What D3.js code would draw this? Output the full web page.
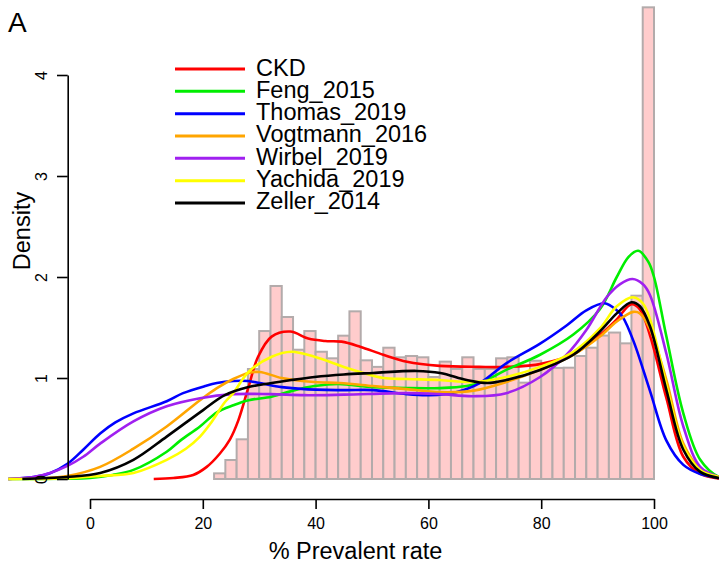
<!DOCTYPE html>
<html>
<head>
<meta charset="utf-8">
<script src="https://cdn.jsdelivr.net/npm/d3@7"></script>
<style>
  html, body { margin: 0; padding: 0; background: #fff; }
  svg { display: block; }
  text { font-family: "Liberation Sans", Arial, Helvetica, sans-serif; fill: #000; }
</style>
</head>
<body>
<svg id="chart" width="719" height="566"></svg>
<script>
// Histogram of prevalence (bins of width 2, from 22 to 100), density scale
const binStart = 22;
const binWidth = 2;
const histDensity = [0.056, 0.188, 0.393, 1.089, 1.465, 1.911, 1.604, 1.280, 1.465, 1.260,
  1.195, 1.419, 1.660, 1.175, 1.110, 1.300, 1.205, 1.218, 1.205, 1.010,
  1.162, 1.090, 1.205, 1.090, 1.090, 1.195, 1.205, 0.954, 1.171, 1.139,
  1.100, 1.102, 1.218, 1.300, 1.420, 1.450, 1.343, 1.815, 4.670];

// Series names and colours
const seriesNames = ["CKD", "Feng_2015", "Thomas_2019", "Vogtmann_2016", "Wirbel_2019", "Yachida_2019", "Zeller_2014"];
const seriesColors = ["#ff0000", "#00ee00", "#0000ff", "#ffa500", "#a020f0", "#ffff00", "#000000"];

// Kernel density curves: [prevalent rate %, density]
const ckd = [[11.3,0],[14.8,0.01],[18.3,0.04],[20.7,0.12],[23,0.25],[24.8,0.39],[26.3,0.58],[28.1,0.91],
  [29.8,1.21],[32.2,1.41],[35.5,1.46],[38.7,1.39],[41.7,1.366],[44.6,1.36],[47.9,1.31],[52,1.23],
  [56.2,1.16],[62,1.12],[69,1.11],[74,1.11],[80,1.14],[86,1.245],[90.5,1.43],[93.3,1.575],[96,1.73],
  [97.5,1.68],[99.3,1.42],[102.2,0.80],[105.2,0.22],[108.2,0.05],[111.5,0.005],[114,0]];
const feng2015 = [[-14.5,0],[-5,0.003],[0,0.01],[4,0.04],[7.7,0.09],[13.6,0.27],[16,0.38],[19.5,0.52],
  [22.5,0.66],[25.4,0.73],[28.1,0.78],[32.2,0.815],[36.3,0.88],[39.8,0.92],[44,0.94],[50.2,0.91],
  [56.1,0.90],[62.1,0.90],[66.8,0.92],[69.5,0.96],[73.8,1.08],[79.8,1.23],[85.7,1.43],[90.4,1.68],
  [93.4,2.0],[95.5,2.2],[97.2,2.26],[99,2.15],[100,2.0],[102.2,1.41],[105.2,0.65],[108.2,0.19],
  [111.5,0.02],[114,0]];
const thomas2019 = [[-14.5,0],[-10,0.02],[-7,0.06],[-4,0.15],[-1.2,0.29],[1.8,0.45],[4.5,0.56],[7.7,0.65],
  [13.6,0.77],[16.5,0.85],[20.4,0.92],[22.5,0.95],[25.4,0.97],[28,0.97],[30.1,0.95],[34,0.91],
  [38.1,0.89],[45,0.88],[50.2,0.88],[56.1,0.84],[60.2,0.83],[64.9,0.86],[69.1,0.95],[73.8,1.145],
  [79.8,1.34],[84.5,1.52],[88,1.67],[91.2,1.74],[93.4,1.67],[94.5,1.6],[96.4,1.36],[99.3,0.87],
  [102.2,0.38],[105.2,0.14],[108.2,0.05],[111.6,0.01],[114,0]];
const vogtmann2016 = [[-14.5,0],[-8,0.01],[-4,0.03],[1.8,0.12],[7.7,0.30],[13.6,0.52],[19.5,0.78],
  [22.5,0.90],[25.4,0.99],[28.1,1.05],[30.1,1.06],[34,1.0],[39.8,0.96],[44.3,0.95],[50.2,0.92],
  [56.1,0.89],[62.1,0.86],[68,0.875],[73.8,0.96],[79.8,1.08],[85.7,1.23],[90.4,1.41],[93.4,1.56],
  [96.3,1.655],[97.5,1.64],[99.3,1.48],[102.2,0.98],[105.2,0.35],[108.2,0.10],[111.5,0.02],[114,0]];
const wirbel2019 = [[-14.5,0],[-10,0.02],[-7.1,0.06],[-4,0.13],[-1.2,0.22],[1.8,0.35],[7.7,0.57],
  [13.6,0.72],[19.5,0.80],[25.4,0.84],[32,0.84],[38,0.83],[45,0.835],[56,0.85],[62,0.84],[68,0.82],
  [73.8,0.85],[79.8,1.01],[84.5,1.23],[88,1.475],[91.6,1.80],[94,1.93],[96.2,1.98],[98,1.93],
  [99.3,1.82],[102.2,1.24],[105.2,0.52],[108.2,0.12],[111.5,0.02],[114,0]];
const yachida2019 = [[-14.5,0],[-5,0.005],[1.8,0.03],[7.7,0.06],[13.6,0.19],[17,0.30],[19.5,0.42],
  [21.5,0.56],[23.9,0.76],[25.4,0.85],[28.1,1.06],[32.2,1.21],[35.7,1.26],[39.8,1.21],[45,1.11],
  [47.9,1.06],[52,1.0],[56.1,0.99],[62,0.98],[68,0.96],[73.8,1.01],[79.8,1.11],[85.7,1.26],
  [90.4,1.49],[93.4,1.71],[96.3,1.80],[98,1.74],[99.3,1.58],[102.2,0.93],[105.2,0.32],[108.2,0.09],
  [111.5,0.02],[114,0]];
const zeller2014 = [[-12,0],[-4.1,0.02],[1.8,0.06],[7.7,0.19],[13.6,0.42],[20,0.68],[23.9,0.83],
  [28.1,0.91],[32.2,0.95],[35.7,0.98],[39.8,1.01],[45,1.035],[50.2,1.05],[57.9,1.07],[62.1,1.05],
  [66.8,0.98],[70.5,0.95],[73.8,0.98],[79.8,1.08],[85.7,1.23],[90.4,1.46],[93.4,1.64],[96,1.75],
  [97.5,1.71],[99.3,1.51],[102.2,0.88],[105.2,0.29],[108.2,0.07],[111.5,0.01],[114,0]];

const seriesValues = [ckd, feng2015, thomas2019, vogtmann2016, wirbel2019, yachida2019, zeller2014];

// Axis ticks
const xTicks = [0, 20, 40, 60, 80, 100];
const yTicks = [0, 1, 2, 3, 4];

const svg = d3.select("#chart");
const W = 719, H = 566;

const x = d3.scaleLinear().domain([0, 100]).range([90, 654]);
const y = d3.scaleLinear().domain([0, 4]).range([479, 75]);

// clip for the plotting region
svg.append("defs").append("clipPath").attr("id", "plotClip")
  .append("rect").attr("x", 0).attr("y", 0).attr("width", W).attr("height", 492);

// Histogram bars
const bins = histDensity.map((d, i) => ({ x0: binStart + i * binWidth, x1: binStart + (i + 1) * binWidth, d }));
svg.append("g")
  .selectAll("rect")
  .data(bins)
  .join("rect")
  .attr("x", b => x(b.x0))
  .attr("y", b => y(b.d))
  .attr("width", b => x(b.x1) - x(b.x0))
  .attr("height", b => y(0) - y(b.d))
  .attr("fill", "#ffcccc")
  .attr("stroke", "#b3abab")
  .attr("stroke-width", 2);

// Density curves
const line = d3.line()
  .x(p => x(p[0]))
  .y(p => y(p[1]))
  .curve(d3.curveCatmullRom.alpha(0.5));

const curves = svg.append("g").attr("clip-path", "url(#plotClip)");
seriesValues.forEach((vals, i) => {
  curves.append("path")
    .attr("d", line(vals))
    .attr("fill", "none")
    .attr("stroke", seriesColors[i])
    .attr("stroke-width", 2.6)
    .attr("stroke-linejoin", "round")
    .attr("stroke-linecap", "butt");
});

// X axis
const xAxis = svg.append("g")
  .attr("transform", "translate(0,499)")
  .call(d3.axisBottom(x).tickValues(xTicks).tickFormat(d3.format("d"))
    .tickSize(10).tickSizeOuter(0).tickPadding(8));
xAxis.select(".domain").attr("stroke", "#000").attr("stroke-width", 1.6);
xAxis.selectAll(".tick line").attr("stroke", "#000").attr("stroke-width", 1.6);
xAxis.selectAll(".tick text")
  .attr("font-size", 16)
  .attr("font-family", "'Liberation Sans', Arial, sans-serif")
  .attr("y", 30).attr("dy", 0);

// Y axis (labels parallel to axis)
const yAxis = svg.append("g")
  .attr("transform", "translate(67.7,0)")
  .call(d3.axisLeft(y).tickValues(yTicks).tickFormat(d3.format("d"))
    .tickSize(10.7).tickSizeOuter(0));
yAxis.select(".domain").attr("stroke", "#000").attr("stroke-width", 1.6);
yAxis.selectAll(".tick line").attr("stroke", "#000").attr("stroke-width", 1.6);
yAxis.selectAll(".tick text")
  .attr("font-size", 16)
  .attr("font-family", "'Liberation Sans', Arial, sans-serif")
  .attr("x", 0).attr("y", -20.7).attr("dy", 0)
  .attr("text-anchor", "middle")
  .attr("transform", "rotate(-90)");

// Axis titles
svg.append("text")
  .attr("x", 355.5).attr("y", 559)
  .attr("text-anchor", "middle")
  .attr("font-size", 23.5)
  .text("% Prevalent rate");

svg.append("text")
  .attr("transform", "translate(30,231) rotate(-90)")
  .attr("text-anchor", "middle")
  .attr("font-size", 23.5)
  .text("Density");

// Panel letter
svg.append("text")
  .attr("x", 8).attr("y", 32)
  .attr("font-size", 28)
  .text("A");

// Legend
const legend = svg.append("g");
seriesNames.forEach((name, i) => {
  const ly = 69 + i * 22.33;
  legend.append("line")
    .attr("x1", 175).attr("x2", 245)
    .attr("y1", ly).attr("y2", ly)
    .attr("stroke", seriesColors[i])
    .attr("stroke-width", 3);
  legend.append("text")
    .attr("x", 256).attr("y", ly + 6.5)
    .attr("font-size", 23.5)
    .text(name);
});
</script>
</body>
</html>
